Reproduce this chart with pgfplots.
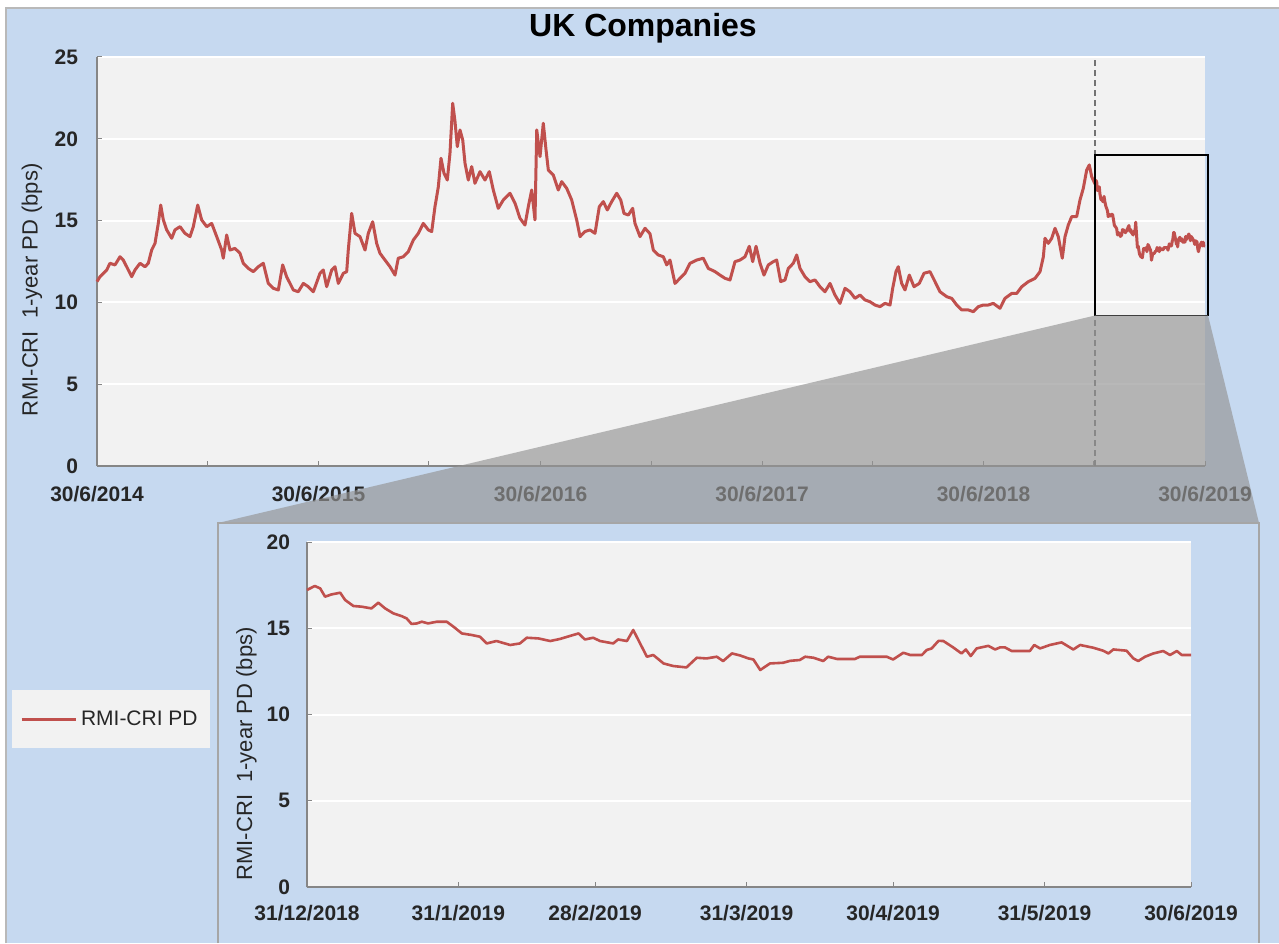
\documentclass[border=0pt]{standalone}
\usepackage{pgfplots}
\pgfplotsset{compat=1.18}
\usepackage{pgfplotstable}
\usepackage{fontspec}
\setmainfont{Liberation Sans}
\definecolor{bgblue}{RGB}{198,217,240}
\definecolor{plotbg}{RGB}{242,242,242}
\definecolor{linered}{RGB}{192,80,77}
\definecolor{axgray}{RGB}{134,134,134}
\definecolor{shadegray}{RGB}{148,148,148}

% days since 30/6/2014
\pgfplotstableread{
d v
0 11.27
4.9 11.57
16.0 11.98
21.4 12.39
29.7 12.29
37.9 12.79
43.3 12.59
48.9 12.18
57.2 11.57
62.6 11.98
70.9 12.39
79.1 12.18
84.5 12.39
90.1 13.20
95.6 13.61
101.0 14.83
105.0 15.95
109.3 15.04
114.9 14.43
123.1 13.92
128.5 14.43
136.8 14.63
145.0 14.22
153.3 14.02
158.7 14.63
166.0 15.95
172.5 15.04
180.8 14.63
189.0 14.83
197.3 14.02
205.5 13.20
208.1 12.70
213.7 14.12
219.2 13.20
227.4 13.30
235.7 13.00
241.1 12.39
249.3 12.08
257.6 11.88
265.8 12.18
274.1 12.39
282.3 11.16
290.5 10.86
298.8 10.76
306.0 12.29
312.5 11.57
318.1 11.16
323.5 10.76
331.7 10.65
340.0 11.16
348.2 10.96
356.5 10.65
367.5 11.78
372.9 11.98
378.5 10.96
386.8 11.98
392.2 12.18
397.7 11.16
405.9 11.78
411.5 11.88
414.1 13.20
419.7 15.44
425.2 14.22
433.4 14.02
441.7 13.20
447.1 14.22
454.3 14.93
460.9 13.61
466.4 13.00
474.6 12.59
482.9 12.18
491.1 11.67
496.5 12.70
504.8 12.79
513.0 13.10
521.3 13.81
529.5 14.22
537.7 14.83
546.0 14.43
551.6 14.33
557.0 15.85
562.5 17.07
566.9 18.81
571.9 17.89
577.3 17.48
581.7 19.11
586.2 22.17
590.0 21.05
593.8 19.52
598.2 20.54
602.7 19.93
606.5 18.50
611.9 17.48
617.5 18.30
622.9 17.28
631.2 17.99
639.4 17.48
646.5 17.99
653.1 16.87
661.3 15.75
669.6 16.26
680.6 16.67
688.9 16.06
697.1 15.14
705.3 14.73
710.8 15.85
716.4 16.87
721.8 15.04
724.7 20.54
730.1 18.91
735.5 20.95
740.0 19.32
743.8 18.09
752.0 17.79
760.2 16.87
765.8 17.38
774.1 16.97
782.3 16.26
790.5 15.04
796.0 14.02
804.2 14.33
812.5 14.43
820.7 14.22
827.8 15.85
834.4 16.16
841.0 15.65
848.2 16.16
856.5 16.67
863.1 16.26
868.5 15.44
875.6 15.34
882.8 15.75
886.6 14.83
894.9 14.02
903.1 14.53
911.3 14.20
916.8 13.20
925.0 12.90
933.3 12.79
938.9 12.29
944.3 12.59
952.5 11.16
960.8 11.47
969.0 11.78
977.3 12.39
988.3 12.59
999.2 12.70
1007.4 12.08
1018.5 11.88
1026.7 11.67
1035.0 11.47
1043.2 11.37
1051.4 12.49
1059.7 12.59
1067.9 12.79
1075.0 13.43
1080.6 12.49
1086.1 13.43
1092.7 12.39
1099.2 11.67
1106.3 12.29
1114.5 12.49
1120.1 12.59
1126.7 11.27
1133.8 11.37
1139.3 12.08
1147.5 12.39
1153.1 12.90
1158.5 12.08
1166.8 11.57
1175.0 11.27
1183.3 11.37
1191.5 10.96
1199.7 10.65
1208.0 11.16
1216.2 10.45
1224.5 9.94
1232.7 10.86
1240.9 10.65
1249.2 10.25
1257.4 10.45
1265.7 10.15
1273.9 10.04
1282.1 9.84
1290.4 9.74
1298.6 9.94
1306.9 9.84
1311.3 10.86
1316.7 11.88
1320.5 12.18
1326.1 11.16
1331.6 10.76
1338.7 11.67
1346.4 10.96
1355.1 11.16
1362.9 11.78
1372.8 11.88
1381.0 11.27
1389.3 10.65
1400.3 10.35
1408.5 10.25
1416.8 9.84
1425.0 9.54
1435.9 9.54
1444.2 9.43
1452.4 9.74
1460.7 9.84
1468.9 9.84
1477.1 9.94
1488.2 9.64
1496.4 10.25
1507.5 10.55
1515.7 10.55
1524.0 10.96
1534.9 11.27
1545.9 11.47
1554.1 11.88
1559.6 12.79
1562.3 13.92
1567.8 13.61
1573.4 13.92
1578.8 14.53
1584.2 14.02
1590.8 12.70
1595.3 14.02
1600.7 14.73
1606.3 15.24
1614.5 15.24
1620.0 16.26
1625.4 16.97
1631.0 18.09
1635.3 18.40
1639.3 17.68
1645.0 17.22
}\maintable

% days since 31/12/2018
\pgfplotstableread{
d v
0 17.22
1.6 17.45
2.7 17.31
3.7 16.83
5.0 16.96
6.8 17.06
7.8 16.64
9.5 16.29
11.2 16.25
13.2 16.15
14.6 16.48
16.0 16.15
17.7 15.86
19.4 15.70
20.4 15.57
21.4 15.25
22.5 15.28
23.5 15.38
24.8 15.28
26.6 15.38
28.6 15.38
30.0 15.09
31.7 14.70
33.7 14.61
35.4 14.51
36.8 14.12
38.8 14.26
41.6 14.03
43.6 14.12
45.0 14.45
47.4 14.41
49.8 14.26
51.8 14.38
53.8 14.55
55.6 14.70
56.9 14.35
58.6 14.45
60.0 14.26
62.7 14.12
63.7 14.35
65.5 14.26
66.8 14.90
68.2 14.12
69.6 13.35
70.9 13.45
73.0 12.96
75.0 12.81
77.7 12.73
79.8 13.29
81.8 13.25
83.9 13.35
85.2 13.10
87.0 13.54
88.7 13.42
90.4 13.25
91.4 13.19
92.8 12.58
94.8 12.96
97.5 13.00
98.9 13.11
100.9 13.16
102.0 13.35
103.7 13.29
105.7 13.10
106.7 13.35
108.5 13.22
112.2 13.22
113.2 13.35
118.7 13.35
120.0 13.19
122.1 13.58
123.5 13.45
125.9 13.45
126.9 13.74
127.9 13.83
129.3 14.27
130.3 14.26
132.3 13.89
134.0 13.54
134.9 13.77
135.9 13.39
137.1 13.83
139.5 13.98
140.9 13.77
141.9 13.89
142.9 13.89
144.3 13.68
148.0 13.68
148.9 14.03
150.1 13.83
152.1 14.03
154.5 14.18
156.9 13.77
158.3 14.03
161.0 13.87
163.0 13.70
164.1 13.54
165.1 13.77
167.8 13.70
169.2 13.25
170.2 13.10
171.6 13.35
173.3 13.54
175.3 13.68
176.7 13.45
178.1 13.68
179.1 13.45
181.0 13.45
}\insettable

\pgfplotsset{
  common/.style={
    scale only axis, clip=false,
    axis x line*=bottom, axis y line*=left,
    axis line style={axgray, line width=0.6pt},
    axis background/.style={fill=plotbg},
    ymajorgrids, major grid style={white, line width=1pt},
    tick align=inside, major tick length=2.5pt, minor tick length=2.5pt,
    tick style={axgray, line width=0.5pt},
    ticklabel style={font=\bfseries\fontsize{10.5}{12}\selectfont, text=black!85},
    /pgf/number format/assume math mode=true,
    label style={font=\fontsize{11}{13}\selectfont, text=black!85},
  }
}

\begin{document}
\begin{tikzpicture}
\useasboundingbox (0,0) rectangle (639.5pt,471.5pt);
\fill[white] (0,0) rectangle (639.5pt,471.5pt);
\fill[bgblue] (3pt,0) rectangle (639.5pt,467.5pt);
\draw[gray!55, line width=0.6pt] (3pt,0) -- (3pt,467.5pt) -- (639.5pt,467.5pt);

\begin{axis}[common,
  at={(48.5pt,238.5pt)}, anchor=south west,
  width=554pt, height=204.5pt,
  xmin=0, xmax=1826, ymin=0, ymax=25,
  xtick={0,365,731,1096,1461,1826},
  xticklabels={30/6/2014,30/6/2015,30/6/2016,30/6/2017,30/6/2018,30/6/2019},
  minor xtick={182,547,913,1278,1643},
  ytick={0,5,10,15,20,25},
  xticklabel style={yshift=-6.5pt},
  yticklabel style={xshift=-6pt},
  ylabel={RMI-CRI\ \ 1-year PD (bps)},
  ylabel style={at={(axis description cs:-0.0587,0.43)}, anchor=center},
  title={UK Companies},
  title style={at={(axis description cs:0.4928,1.0416)}, anchor=center,
    font=\bfseries\fontsize{16}{19}\selectfont},
]
\draw[black!55, dash pattern=on 3pt off 2pt, line width=0.7pt] (axis cs:1645,0) -- (axis cs:1645,25);
\addplot[linered, line width=1.5pt, line join=round] table[x=d, y=v]{\maintable};
\addplot[linered, line width=1.5pt, line join=round] table[x expr=\thisrow{d}+1645, y=v]{\insettable};
\draw[black, line width=0.8pt] (axis cs:1645,9.2) rectangle (axis cs:1831,19);
\coordinate (rbl) at (axis cs:1645,9.2);
\coordinate (rbr) at (axis cs:1831,9.2);
\end{axis}

\fill[shadegray, fill opacity=0.66] (rbl) -- (109pt,210pt) -- (629.5pt,210pt) -- (rbr) -- cycle;
\fill[bgblue] (109pt,0) rectangle (629.5pt,210pt);
\draw[gray!70, line width=0.6pt] (109pt,0) -- (109pt,210pt) -- (629.5pt,210pt) -- (629.5pt,0);

\begin{axis}[common,
  at={(153.5pt,28pt)}, anchor=south west,
  width=442pt, height=172.5pt,
  xmin=0, xmax=181, ymin=0, ymax=20,
  xtick={0,31,59,90,120,151,181},
  xticklabels={31/12/2018,31/1/2019,28/2/2019,31/3/2019,30/4/2019,31/5/2019,30/6/2019},
  ytick={0,5,10,15,20},
  xticklabel style={yshift=-5.5pt},
  yticklabel style={xshift=-5pt},
  ylabel={RMI-CRI\ \ 1-year PD (bps)},
  ylabel style={at={(axis description cs:-0.0684,0.386)}, anchor=center},
  legend style={at={(axis description cs:-0.3337,0.571)}, anchor=north west,
    fill=plotbg, draw=none, inner xsep=4pt, inner ysep=8pt,
    font=\fontsize{10.5}{12}\selectfont, text=black!85},
  legend image code/.code={\draw[#1] (0pt,0pt) -- (27pt,0pt);},
]
\addplot[linered, line width=1.3pt, line join=round] table[x=d, y=v]{\insettable};
\addlegendentry{RMI-CRI PD}
\end{axis}
\end{tikzpicture}
\end{document}
